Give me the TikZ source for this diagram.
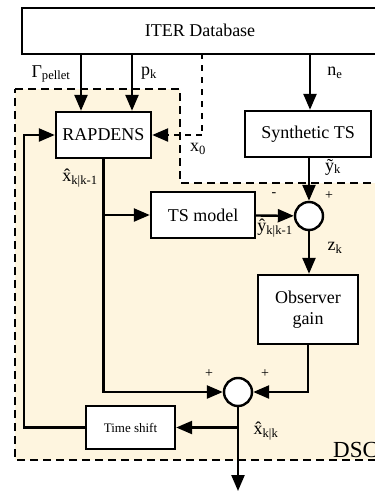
\documentclass[tikz,border=0pt]{standalone}
\usepackage{fontspec}
\setmainfont{Liberation Serif}
\usetikzlibrary{arrows.meta}
\definecolor{dscfill}{HTML}{FEF5DF}
\tikzset{
  blk/.style={draw,line width=2.4pt,fill=white,align=center,inner sep=0pt,font=\fontsize{18}{21}\selectfont},
  sumc/.style={draw,line width=2.4pt,fill=white,circle,minimum size=28pt,inner sep=0pt},
  arr/.style={line width=2.4pt,-{Triangle[length=16pt,width=13pt]}},
  lbl/.style={inner sep=0pt,font=\fontsize{18}{21}\selectfont},
  sgn/.style={inner sep=0pt,font=\fontsize{14}{16}\selectfont}
}
\begin{document}
\begin{tikzpicture}[x=1pt,y=-1pt]
\useasboundingbox (0,0) rectangle (375,491);
\clip (0,0) rectangle (375,491);
% DSC region
\path[fill=dscfill,draw,dash pattern=on 8pt off 5pt,line width=1.2pt]
  (15,89) -- (180,89) -- (180,183) -- (400,183) -- (400,460) -- (15,460) -- cycle;
\node[inner sep=0pt,anchor=base west,font=\fontsize{23}{26}\selectfont] (dsc) at (333,457) {DSC};
% database
\node[blk,minimum width=379pt,minimum height=46pt,anchor=north west] (db) at (21,7) {};
\node[lbl] (dbt) at (200,30) {ITER Database};
% blocks
\node[blk,minimum width=95pt,minimum height=46pt] (rap) at (103.5,135) {RAPDENS};
\node[blk,minimum width=126pt,minimum height=46pt] (sts) at (308,134) {Synthetic TS};
\node[blk,minimum width=104pt,minimum height=46pt] (tsm) at (203,215) {TS model};
\node[sumc] (sum1) at (309,216) {};
\node[blk,minimum width=100pt,minimum height=69pt] (og) at (308,309.5) {Observer\\gain};
\node[sumc] (sum2) at (238,392) {};
\node[blk,minimum width=89pt,minimum height=43pt,font=\fontsize{13}{15}\selectfont] (ts) at (130.5,427.5) {Time shift};
% coordinates
\coordinate (gp) at (81,53);
\coordinate (pk) at (132,53);
\coordinate (ne) at (310,53);
\coordinate (xa) at (202,53);
\coordinate (xb) at (202,135);
\coordinate (out) at (238,491);
% connectors
\draw[arr] (gp) -- (gp |- rap.north);
\draw[arr] (pk) -- (pk |- rap.north);
\draw[arr] (ne) -- (ne |- sts.north);
\draw[line width=2.6pt,dash pattern=on 6pt off 6pt] (xa) -- (xb);
\draw[line width=2.4pt,dash pattern=on 6pt off 5pt,-{Triangle[length=16pt,width=13pt]}] (xb) -- (rap.east);
\draw[arr] (tsm) -- (sum1);
\draw[arr] (sts.south -| sum1) -- (sum1);
\draw[arr] (sum1) -- (sum1 |- og.north);
\draw[arr] (rap.south) |- (sum2.west);
\draw[arr] (rap.south |- tsm) -- (tsm.west);
\draw[arr] (og.south) |- (sum2.east);
\draw[arr] (sum2) -- (out);
\draw[arr] (sum2.south |- ts) -- (ts.east);
\draw[arr] (ts.west) -- ++(-61,0) |- (rap.west);
% labels
\node[lbl] (lg) at (51,74) {Γ\textsubscript{pellet}};
\node[lbl] (lp) at (149,73) {p\textsubscript{k}};
\node[lbl] (ln) at (335,73) {n\textsubscript{e}};
\node[lbl] (lx0) at (198,149) {x\textsubscript{0}};
\node[lbl] (ly) at (333,167) {\~{y}\textsubscript{k}};
\node[sgn] (m1) at (274,195) {-};
\node[sgn] (p1) at (329,196) {+};
\node[lbl] (lyh) at (275,228) {\^{y}\textsubscript{k|k-1}};
\node[lbl] (lxh) at (80,178) {\^{x}\textsubscript{k|k-1}};
\node[lbl] (lz) at (335,248) {z\textsubscript{k}};
\node[sgn] (p2) at (209,374) {+};
\node[sgn] (p3) at (265,374) {+};
\node[lbl] (lxk) at (266,431) {\^{x}\textsubscript{k|k}};
\end{tikzpicture}
\end{document}
